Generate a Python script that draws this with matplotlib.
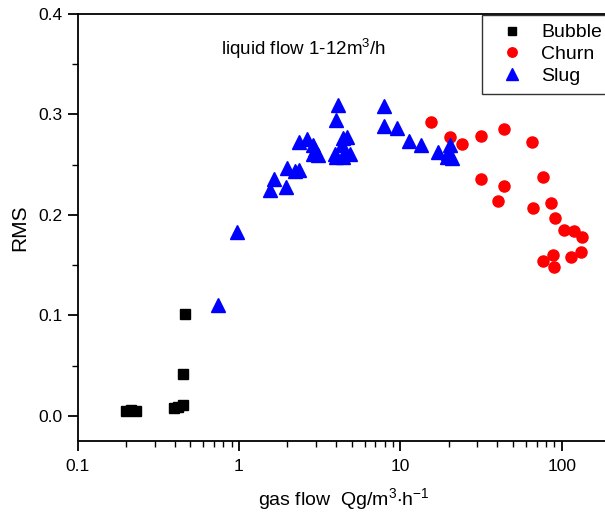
import matplotlib
matplotlib.use("Agg")
import matplotlib.pyplot as plt
from matplotlib.ticker import LogLocator, MultipleLocator, FixedLocator, FixedFormatter

plt.rcParams['font.family'] = ['Liberation Sans', 'DejaVu Sans']
plt.rcParams['mathtext.fontset'] = 'custom'
plt.rcParams['mathtext.rm'] = 'Liberation Sans'
plt.rcParams['mathtext.it'] = 'Liberation Sans:italic'
plt.rcParams['mathtext.default'] = 'regular'

# ---- data ----
bubble_x = [0.200, 0.215, 0.230, 0.396, 0.420, 0.450, 0.450, 0.463]
bubble_y = [0.005, 0.006, 0.005, 0.008, 0.009, 0.011, 0.042, 0.101]

churn_x = [15.5, 20.3, 24.1, 31.6, 43.9, 65.5, 31.6, 43.9, 40.3, 76.6, 66.4,
           85.9, 90.8, 103, 119, 134, 132, 114, 88.3, 76.6, 89.6]
churn_y = [0.293, 0.278, 0.271, 0.279, 0.286, 0.273, 0.236, 0.229, 0.214, 0.238, 0.207,
           0.212, 0.197, 0.185, 0.184, 0.178, 0.163, 0.158, 0.160, 0.154, 0.148]

slug_x = [0.742, 0.973, 1.56, 1.65, 1.96, 2.0, 2.23, 2.36, 2.36, 2.64, 2.88, 2.88, 2.96, 3.1,
          3.94, 4.0, 4.0, 4.11, 4.35, 4.42, 4.42, 4.53, 4.68, 4.88,
          7.93, 7.93, 9.54, 11.3, 13.4, 17.1, 19.4, 19.7, 20.3, 21.0]
slug_y = [0.110, 0.183, 0.225, 0.236, 0.228, 0.247, 0.244, 0.245, 0.273, 0.276, 0.270, 0.261, 0.265, 0.260,
          0.261, 0.258, 0.294, 0.309, 0.270, 0.277, 0.258, 0.263, 0.278, 0.261,
          0.308, 0.289, 0.287, 0.274, 0.270, 0.263, 0.258, 0.262, 0.270, 0.257]

xticks = [0.1, 1, 10, 100]
xticklabels = ['0.1', '1', '10', '100']
yticks = [0.0, 0.1, 0.2, 0.3, 0.4]
yticklabels = ['0.0', '0.1', '0.2', '0.3', '0.4']

fig = plt.figure(figsize=(6.05, 5.15), dpi=100)
ax = fig.add_axes([77.5/605, (515-441)/515, (610.3-77.5)/605, (441-14)/515])

ax.plot(bubble_x, bubble_y, 's', color='black', markersize=6.8, linestyle='none', label='Bubble')
ax.plot(churn_x, churn_y, 'o', color='red', markersize=8, linestyle='none', label='Churn')
ax.plot(slug_x, slug_y, '^', color='blue', markersize=9.5, linestyle='none', label='Slug')

ax.set_xscale('log')
ax.set_xlim(0.1, 200)
ax.set_ylim(-0.025, 0.4)

ax.xaxis.set_major_locator(FixedLocator(xticks))
ax.xaxis.set_major_formatter(FixedFormatter(xticklabels))
ax.xaxis.set_minor_locator(LogLocator(base=10, subs=range(2, 10)))
ax.xaxis.set_minor_formatter(plt.NullFormatter())
ax.yaxis.set_major_locator(FixedLocator(yticks))
ax.yaxis.set_major_formatter(FixedFormatter(yticklabels))
ax.yaxis.set_minor_locator(MultipleLocator(0.05))

for s in ax.spines.values():
    s.set_linewidth(1.3)
ax.tick_params(which='major', direction='out', length=7, width=1.3, labelsize=12.5, top=False, right=False)
ax.tick_params(which='minor', direction='out', length=4, width=1.0, top=False, right=False)
ax.tick_params(axis='x', which='major', pad=6)
ax.tick_params(axis='y', which='major', pad=4)

ax.set_xlabel(r'gas flow  Qg/m$^3$$\cdot$h$^{-1}$', fontsize=14, labelpad=9)
ax.set_ylabel('RMS', fontsize=15, labelpad=6)

ax.text(0.27, 0.918, r'liquid flow 1-12m$^3$/h', transform=ax.transAxes, fontsize=13.5,
        ha='left', va='center')

leg = ax.legend(loc='upper left', bbox_to_anchor=(482/605, 1 - 15/515),
                bbox_transform=fig.transFigure, borderaxespad=0, fontsize=14,
                frameon=True, fancybox=False, edgecolor='black', handlelength=2.2,
                handletextpad=0.4, labelspacing=0.22, borderpad=0.45, markerscale=0.85)
leg.get_frame().set_linewidth(1.0)

fig.savefig('out.png', dpi=100)
